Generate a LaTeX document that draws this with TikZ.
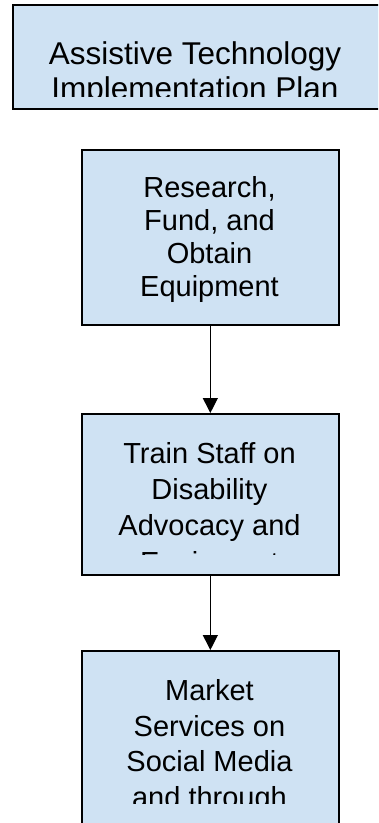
\documentclass[tikz,border=0pt]{standalone}
\usepackage{fontspec}
\setmainfont{Liberation Sans}
\usetikzlibrary{arrows.meta}
\definecolor{boxfill}{HTML}{CFE2F3}
\tikzset{
  box/.style={draw=black, line width=1.7pt, fill=boxfill, inner sep=0pt, anchor=north west},
  txt/.style={anchor=base, inner sep=0pt, font=\fontsize{29}{34}\selectfont},
  toptxt/.style={anchor=base, inner sep=0pt, font=\fontsize{31.5}{36}\selectfont},
  flow/.style={draw=black, line width=1.2pt, -{Triangle[length=15pt,width=15pt]}},
}
\begin{document}
\begin{tikzpicture}[x=1pt,y=-1pt]
\clip (0,0) rectangle (378,823);
\fill[white] (0,0) rectangle (378,823);
% boxes
\node[box, minimum width=368pt, minimum height=104pt] (b1) at (12,4) {};
\node[box, minimum width=257pt, minimum height=175pt] (b2) at (81,149) {};
\node[box, minimum width=257pt, minimum height=161pt] (b3) at (81,413) {};
\node[box, minimum width=257pt, minimum height=200pt] (b4) at (81,650) {};
% texts
\begin{scope}
  \clip (12,4) rectangle (380,96.5);
  \node[toptxt] (t1a) at (195,64) {Assistive Technology};
  \node[toptxt] (t1b) at (195,99.5) {Implementation Plan};
\end{scope}
\node[txt] (t2a) at (209.5,197) {Research,};
\node[txt] (t2b) at (209.5,230.5) {Fund, and};
\node[txt] (t2c) at (209.5,263.5) {Obtain};
\node[txt] (t2d) at (209.5,296.5) {Equipment};
\begin{scope}
  \clip (81,413) rectangle (338,554);
  \node[txt] (t3a) at (209.5,463.5) {Train Staff on};
  \node[txt] (t3b) at (209.5,499.5) {Disability};
  \node[txt] (t3c) at (209.5,535.5) {Advocacy and};
  \node[txt] (t3d) at (209.5,572) {Equipment};
\end{scope}
\begin{scope}
  \clip (81,650) rectangle (338,803.5);
  \node[txt] (t4a) at (209.5,700.5) {Market};
  \node[txt] (t4b) at (209.5,736) {Services on};
  \node[txt] (t4c) at (209.5,771.5) {Social Media};
  \node[txt] (t4d) at (209.5,807.5) {and through};
\end{scope}
% connectors
\draw[flow] (b2.south) -- (b3.north);
\draw[flow] (b3.south) -- (b4.north);
\end{tikzpicture}
\end{document}
